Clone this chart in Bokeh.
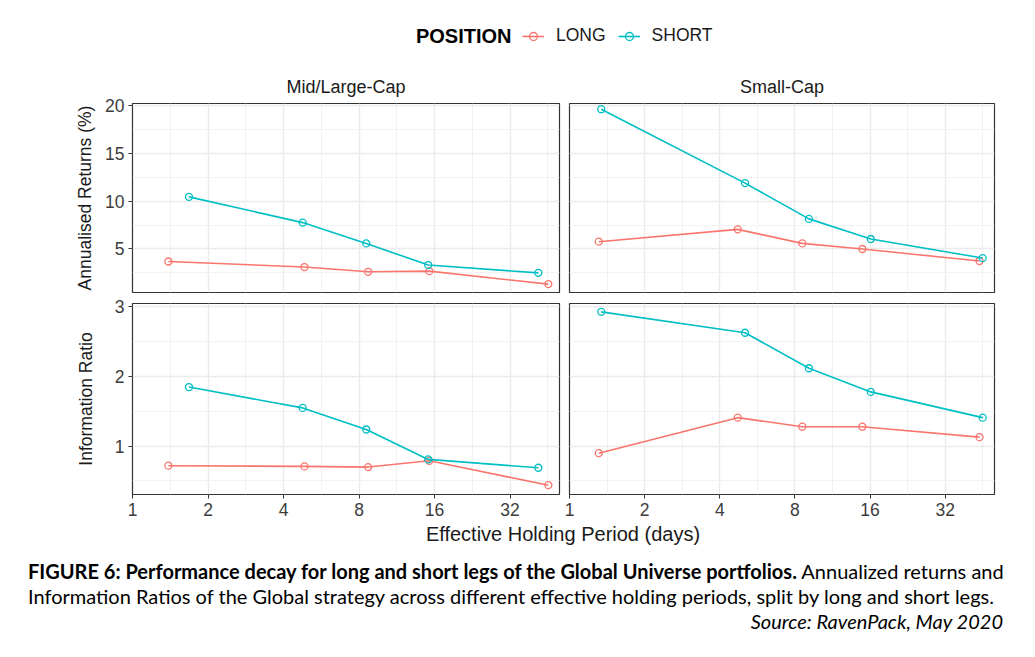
import math
from bokeh.plotting import figure
from bokeh.models import (Range1d, FixedTicker, BasicTickFormatter, Legend, LegendItem,
                          Label, Div, ColumnDataSource)
from bokeh.layouts import column, row
from bokeh.embed import file_html
from bokeh.resources import INLINE

# ---------------- data ----------------
SEGMENTS = ["Mid/Large-Cap", "Small-Cap"]
POSITIONS = ["LONG", "SHORT"]
COLORS = {"LONG": "#F8766D", "SHORT": "#00BFC4"}
METRIC_LABELS = ["Annualised Returns (%)", "Information Ratio"]

X_TICKS = [1, 2, 4, 8, 16, 32]
RET_TICKS = [5, 10, 15, 20]
IR_TICKS = [1, 2, 3]

# effective holding period (days)
ML_LONG_X = [1.39, 4.85, 8.70, 15.25, 45.5]
ML_SHORT_X = [1.68, 4.77, 8.55, 15.1, 41.5]
SC_LONG_X = [1.31, 4.72, 8.56, 14.9, 43.9]
SC_SHORT_X = [1.34, 5.05, 9.10, 16.1, 45.2]

# annualised returns (%)
ML_LONG_RET = [3.68, 3.10, 2.60, 2.67, 1.31]
ML_SHORT_RET = [10.46, 7.76, 5.58, 3.31, 2.49]
SC_LONG_RET = [5.76, 7.05, 5.58, 4.99, 3.73]
SC_SHORT_RET = [19.65, 11.9, 8.15, 6.04, 4.04]

# information ratio
ML_LONG_IR = [0.72, 0.71, 0.70, 0.79, 0.44]
ML_SHORT_IR = [1.85, 1.55, 1.24, 0.81, 0.69]
SC_LONG_IR = [0.90, 1.41, 1.28, 1.28, 1.13]
SC_SHORT_IR = [2.93, 2.63, 2.12, 1.78, 1.41]

DATA = {
    (0, 0): {"LONG": (ML_LONG_X, ML_LONG_RET), "SHORT": (ML_SHORT_X, ML_SHORT_RET)},
    (0, 1): {"LONG": (SC_LONG_X, SC_LONG_RET), "SHORT": (SC_SHORT_X, SC_SHORT_RET)},
    (1, 0): {"LONG": (ML_LONG_X, ML_LONG_IR), "SHORT": (ML_SHORT_X, ML_SHORT_IR)},
    (1, 1): {"LONG": (SC_LONG_X, SC_LONG_IR), "SHORT": (SC_SHORT_X, SC_SHORT_IR)},
}

FONT = "Liberation Sans"
X_MAX = 50.4
Y_RANGES = [(0.43, 20.25), (0.306, 3.05)]
Y_TICKS = [RET_TICKS, IR_TICKS]


def minor_between(ticks, geometric=False):
    out = []
    ext = ticks + [ticks[-1] * 2 if geometric else ticks[-1] + (ticks[1] - ticks[0])]
    pre = [ticks[0] / 2 if geometric else ticks[0] - (ticks[1] - ticks[0])]
    allt = pre + ext
    for a, b in zip(allt[:-1], allt[1:]):
        out.append(math.sqrt(a * b) if geometric else (a + b) / 2)
    return out


def make_panel(r, c):
    left = c == 0
    top = r == 0
    width = 564 if left else 463
    height = 239 if top else 225
    p = figure(
        width=width, height=height, x_axis_type="log",
        x_range=Range1d(1, X_MAX), y_range=Range1d(*Y_RANGES[r]),
        output_backend="svg", toolbar_location=None,
        title=SEGMENTS[c] if top else None,
        min_border_left=132 if left else 5,
        min_border_right=5 if left else 33,
        min_border_top=45 if top else 6,
        min_border_bottom=5 if top else 28,
    )
    p.background_fill_color = "white"
    p.border_fill_color = "white"
    p.outline_line_color = "#333333"
    p.outline_line_width = 1.2

    xt = FixedTicker(ticks=X_TICKS, minor_ticks=minor_between(X_TICKS, geometric=True))
    yt = FixedTicker(ticks=Y_TICKS[r], minor_ticks=minor_between(Y_TICKS[r]))
    p.xaxis.ticker = xt
    p.yaxis.ticker = yt
    p.xgrid.ticker = xt
    p.ygrid.ticker = yt
    p.xaxis.formatter = BasicTickFormatter()

    for g in (p.xgrid, p.ygrid):
        g.grid_line_color = "#EBEBEB"
        g.grid_line_width = 1.4
        g.minor_grid_line_color = "#F2F2F2"
        g.minor_grid_line_width = 1.0

    for ax in (p.xaxis, p.yaxis):
        ax.axis_line_color = None
        ax.major_tick_out = 4
        ax.major_tick_in = 0
        ax.minor_tick_out = 0
        ax.minor_tick_in = 0
        ax.major_tick_line_color = "#333333"
        ax.major_tick_line_width = 1
        ax.major_label_text_font = FONT
        ax.major_label_text_font_size = "17.5px"
        ax.major_label_text_color = "#3d3d3d"
        ax.major_label_standoff = 4
        ax.axis_label_text_font = FONT
        ax.axis_label_text_font_size = "17.5px"
        ax.axis_label_text_font_style = "normal"
        ax.axis_label_text_color = "#1a1a1a"

    if left:
        p.yaxis.axis_label = METRIC_LABELS[r]
        p.yaxis.axis_label_standoff = 7 if top else 16
    else:
        p.yaxis.visible = False
    if top:
        p.xaxis.visible = False
        p.title.align = "center"
        p.title.text_font = FONT
        p.title.text_font_size = "18px"
        p.title.text_font_style = "normal"
        p.title.text_color = "#1a1a1a"
        p.title.standoff = 13

    for pos in POSITIONS:
        xs, ys = DATA[(r, c)][pos]
        src = ColumnDataSource(dict(x=xs, y=ys))
        p.line("x", "y", source=src, line_color=COLORS[pos], line_width=1.6)
        p.scatter("x", "y", source=src, marker="circle", size=7, fill_color=None,
                  line_color=COLORS[pos], line_width=1.3)
    return p


# ---------------- legend strip ----------------
leg = figure(width=1035, height=58, toolbar_location=None, output_backend="svg",
             min_border=0, x_range=Range1d(0, 1), y_range=Range1d(0, 1))
leg.axis.visible = False
leg.grid.visible = False
leg.outline_line_color = None
items = []
for pos in POSITIONS:
    # a single undefined point: the renderer only supplies the legend key glyph
    src = ColumnDataSource(dict(x=[float("nan")], y=[float("nan")]))
    lr = leg.line("x", "y", source=src, line_color=COLORS[pos], line_width=1.6)
    sr = leg.scatter("x", "y", source=src, marker="circle", size=7, fill_color=None,
                     line_color=COLORS[pos], line_width=1.3)
    items.append(LegendItem(label=pos, renderers=[lr, sr]))
legend = Legend(items=items, orientation="horizontal", location=(522, 12),
                padding=0, margin=0, border_line_color=None, background_fill_alpha=0,
                label_text_font=FONT, label_text_font_size="17.5px", label_text_color="#1a1a1a",
                glyph_width=22, glyph_height=20, label_standoff=12, spacing=12,
                label_height=20)
leg.add_layout(legend)
leg.add_layout(Label(x=511, y=23, x_units="screen", y_units="screen", text="POSITION",
                     text_align="right", text_baseline="middle", text_font=FONT,
                     text_font_size="20px", text_font_style="bold", text_color="#000000"))

panels = [[make_panel(r, c) for c in range(2)] for r in range(2)]

xtitle = Div(text=("<div style=\"width:1035px;box-sizing:border-box;text-align:center;"
                   "padding-left:91px;font-family:'Liberation Sans';font-size:20px;"
                   "line-height:24px;color:#1a1a1a;white-space:nowrap\">"
                   "Effective Holding Period (days)</div>"),
             width=1035, height=24, margin=0)

caption = Div(text=("<div style=\"width:1035px;box-sizing:border-box;font-family:Lato;"
                    "font-size:20px;line-height:25px;color:#000;padding:13px 32px 0 28px;"
                    "white-space:nowrap\">"
                    "<div><b>FIGURE 6: Performance decay for long and short legs of the Global "
                    "Universe portfolios.</b> Annualized returns and</div>"
                    "<div>Information Ratios of the Global strategy across different effective "
                    "holding periods, split by long and short legs.</div>"
                    "<div style=\"text-align:right\"><i>Source: RavenPack, May 2020</i></div>"
                    "</div>"),
              width=1035, height=90, margin=0)

layout = column(leg, row(panels[0][0], panels[0][1]), row(panels[1][0], panels[1][1]),
                xtitle, caption)

open("out.html", "w").write(file_html(layout, INLINE))
